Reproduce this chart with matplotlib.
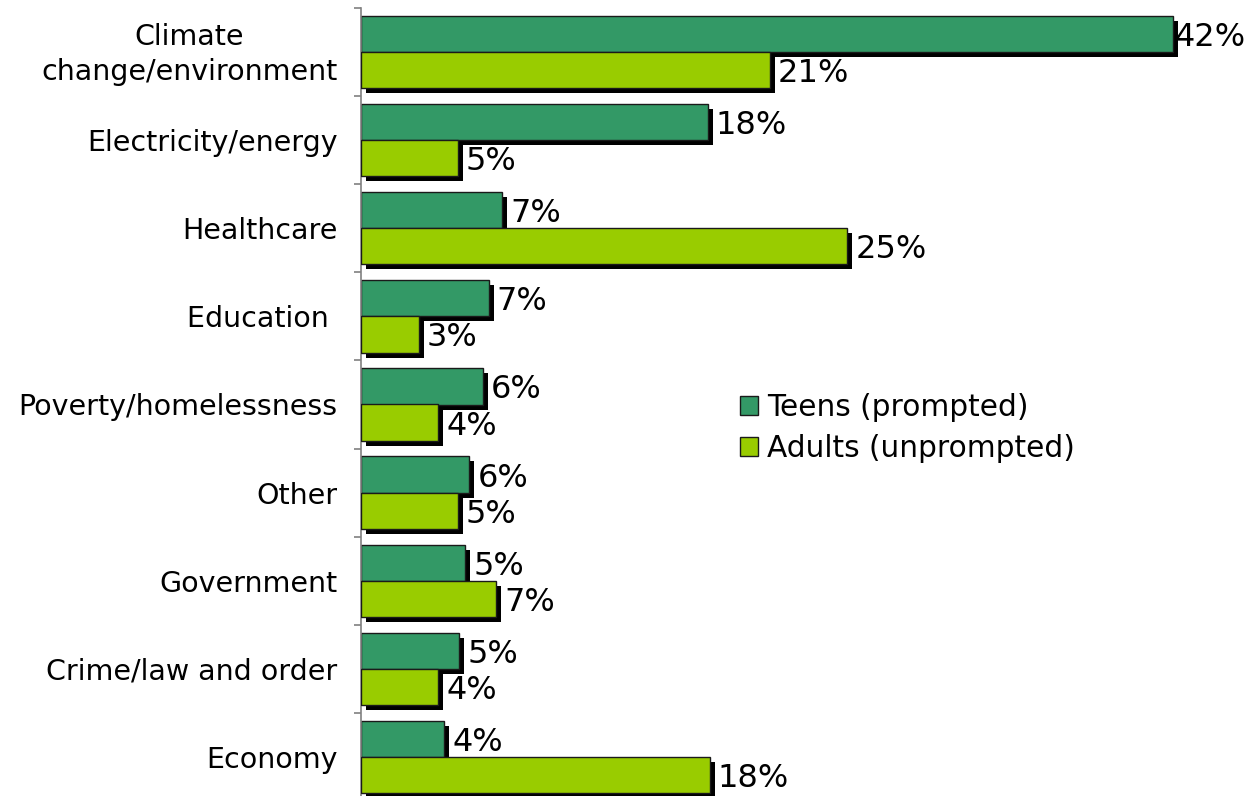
import matplotlib
matplotlib.use("Agg")
import matplotlib.pyplot as plt
import matplotlib.patheffects as pe
import matplotlib.transforms as mtransforms
import numpy as np

categories = ["Climate\nchange/environment", "Electricity/energy", "Healthcare",
              "Education ", "Poverty/homelessness", "Other", "Government",
              "Crime/law and order", "Economy"]
teens = [41.9, 17.9, 7.3, 6.6, 6.3, 5.6, 5.4, 5.1, 4.3]
adults = [21.1, 5.0, 25.1, 3.0, 4.0, 5.0, 7.0, 4.0, 18.0]
series_names = ["Teens (prompted)", "Adults (unprompted)"]
colors = ["#339966", "#99CC00"]

plt.rcParams['font.family'] = ['DejaVu Sans']

fig = plt.figure(figsize=(12.5, 7.96), dpi=100)
ax = fig.add_axes([360.5 / 1250, -5 / 796, 1 - 360.5 / 1250, 793 / 796])

y = np.arange(len(categories))
h = 0.41
off = 0.205
shadow = [pe.SimplePatchShadow(offset=(3.6, -3.6), shadow_rgbFace='black', alpha=1.0),
          pe.Normal()]

b1 = ax.barh(y - off, teens, height=h, color=colors[0], edgecolor='#1a1a1a',
             linewidth=1.0, label=series_names[0], zorder=2)
b2 = ax.barh(y + off, adults, height=h, color=colors[1], edgecolor='#1a1a1a',
             linewidth=1.0, label=series_names[1], zorder=3)
for bars in (b1, b2):
    for p in bars:
        p.set_path_effects(shadow)

xmax = 889.5 / 19.4
ax.set_xlim(0, xmax)
ax.set_ylim(len(categories) - 0.5, -0.5)

# value labels; a label that would run past the right edge is pulled in
for vals, dy in ((teens, -off), (adults, off)):
    for i, v in enumerate(vals):
        if v + 0.42 + 3.7 > xmax:
            ax.text(xmax - 0.2, i + dy + 0.04, f"{v:.0f}%", va='center', ha='right',
                    fontsize=23, color='black', zorder=5)
        else:
            ax.text(v + 0.42, i + dy + 0.04, f"{v:.0f}%", va='center', ha='left',
                    fontsize=23, color='black', zorder=5)

ax.set_yticks(y)
ax.set_yticklabels(categories, fontsize=20.5, multialignment='center',
                   linespacing=1.32)
ax.tick_params(axis='y', which='major', length=0, pad=16.5)
ax.set_yticks(np.arange(-0.5, len(categories), 1.0), minor=True)
ax.tick_params(axis='y', which='minor', length=5, width=1.2, color='#808080', direction='out')
ax.set_xticks([])

# nudge the two-line category label up slightly
first = ax.get_yticklabels()[0]
first.set_transform(first.get_transform() +
                    mtransforms.ScaledTranslation(0, 4 / 100, fig.dpi_scale_trans))

for s in ('top', 'right', 'bottom'):
    ax.spines[s].set_visible(False)
ax.spines['left'].set_color('#808080')
ax.spines['left'].set_linewidth(1.2)

leg = ax.legend(loc='upper left', bbox_to_anchor=(725 / 1250, 1 - 378 / 796),
                bbox_transform=fig.transFigure, frameon=False, fontsize=21.3,
                handlelength=0.62, handleheight=0.62, handletextpad=0.3,
                labelspacing=0.4, borderpad=0)
for hnd in leg.legend_handles:
    hnd.set_path_effects([])

fig.savefig("out.png", dpi=100)
